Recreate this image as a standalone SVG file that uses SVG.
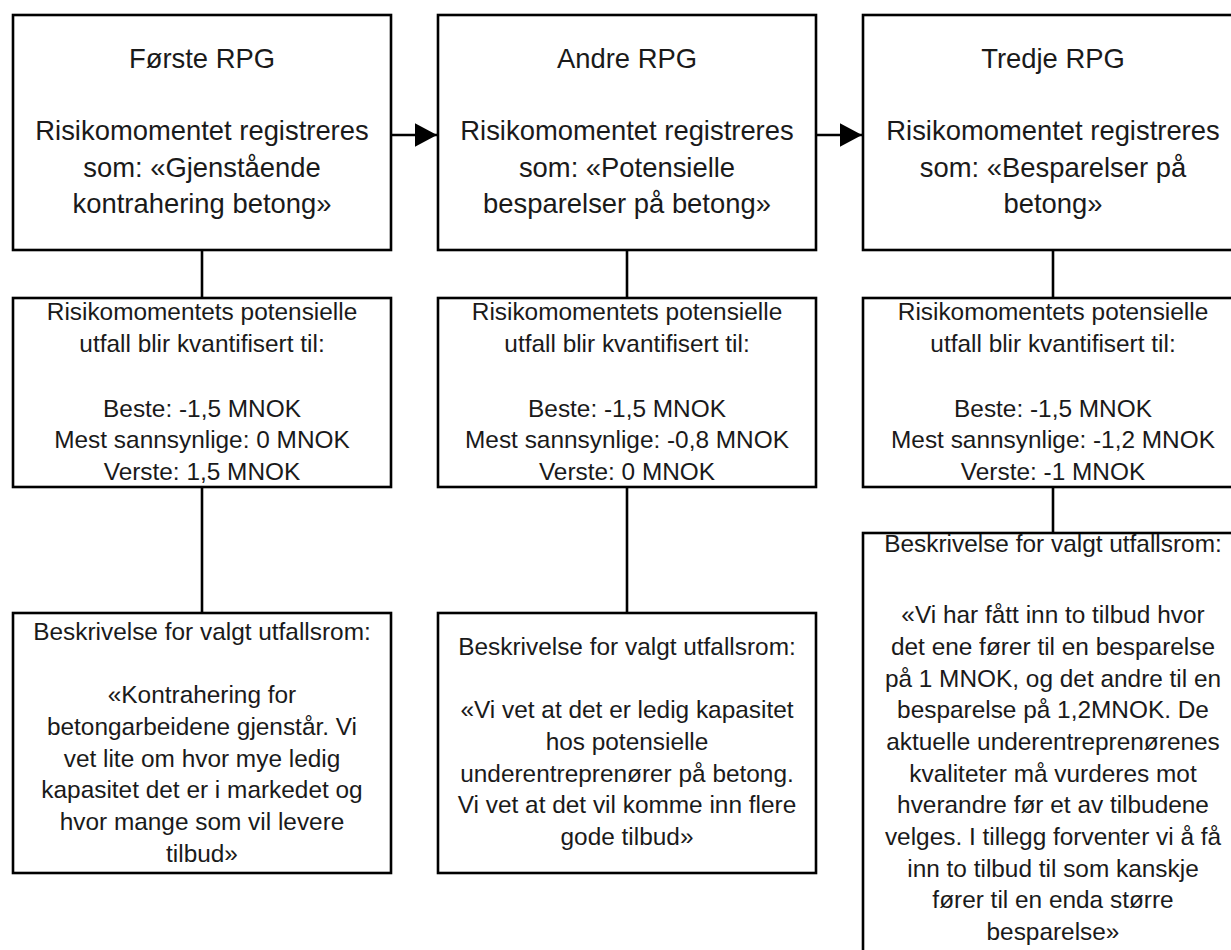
<svg xmlns="http://www.w3.org/2000/svg" width="1231" height="950" viewBox="0 0 1231 950">
<style>
.box{fill:#fff;stroke:#000;stroke-width:2.6}
.ln{stroke:#000;stroke-width:2.6;fill:none}
text{font-family:"Liberation Sans",Arial,sans-serif;fill:#1a1a1a;text-anchor:middle}
.t{font-size:27.4px}
.s{font-size:24.4px}
</style>
<defs>
<marker id="arr" markerWidth="8.5" markerHeight="9" refX="8.5" refY="4.5" orient="auto" markerUnits="strokeWidth">
<path d="M0,0 L8.5,4.5 L0,9 Z" fill="#000"/>
</marker>
</defs>
<rect width="1231" height="950" fill="#fff"/>
<g id="connectors">
<line class="ln" x1="391" y1="135" x2="437" y2="135" marker-end="url(#arr)"/>
<line class="ln" x1="816" y1="135" x2="862" y2="135" marker-end="url(#arr)"/>
<line class="ln" x1="202" y1="250" x2="202" y2="298"/>
<line class="ln" x1="627" y1="250" x2="627" y2="298"/>
<line class="ln" x1="1053" y1="250" x2="1053" y2="298"/>
<line class="ln" x1="202" y1="487" x2="202" y2="613"/>
<line class="ln" x1="627" y1="487" x2="627" y2="613"/>
<line class="ln" x1="1053" y1="487" x2="1053" y2="533"/>
</g>
<g id="rpg1">
<rect class="box" x="13" y="15" width="378" height="235"/>
<text class="t" x="202" y="68">Første RPG</text>
<text class="t" x="202" y="140">Risikomomentet registreres</text>
<text class="t" x="202" y="177">som: «Gjenstående</text>
<text class="t" x="202" y="213">kontrahering betong»</text>
</g>
<g id="rpg2">
<rect class="box" x="438" y="15" width="378" height="235"/>
<text class="t" x="627" y="68">Andre RPG</text>
<text class="t" x="627" y="140">Risikomomentet registreres</text>
<text class="t" x="627" y="177">som: «Potensielle</text>
<text class="t" x="627" y="213">besparelser på betong»</text>
</g>
<g id="rpg3">
<rect class="box" x="863" y="15" width="380" height="235"/>
<text class="t" x="1053" y="68">Tredje RPG</text>
<text class="t" x="1053" y="140">Risikomomentet registreres</text>
<text class="t" x="1053" y="177">som: «Besparelser på</text>
<text class="t" x="1053" y="213">betong»</text>
</g>
<g id="utfall1">
<rect class="box" x="13" y="298" width="378" height="189"/>
<text class="s" x="202" y="320">Risikomomentets potensielle</text>
<text class="s" x="202" y="352">utfall blir kvantifisert til:</text>
<text class="s" x="202" y="417">Beste: -1,5 MNOK</text>
<text class="s" x="202" y="448">Mest sannsynlige: 0 MNOK</text>
<text class="s" x="202" y="480">Verste: 1,5 MNOK</text>
</g>
<g id="utfall2">
<rect class="box" x="438" y="298" width="378" height="189"/>
<text class="s" x="627" y="320">Risikomomentets potensielle</text>
<text class="s" x="627" y="352">utfall blir kvantifisert til:</text>
<text class="s" x="627" y="417">Beste: -1,5 MNOK</text>
<text class="s" x="627" y="448">Mest sannsynlige: -0,8 MNOK</text>
<text class="s" x="627" y="480">Verste: 0 MNOK</text>
</g>
<g id="utfall3">
<rect class="box" x="863" y="298" width="380" height="189"/>
<text class="s" x="1053" y="320">Risikomomentets potensielle</text>
<text class="s" x="1053" y="352">utfall blir kvantifisert til:</text>
<text class="s" x="1053" y="417">Beste: -1,5 MNOK</text>
<text class="s" x="1053" y="448">Mest sannsynlige: -1,2 MNOK</text>
<text class="s" x="1053" y="480">Verste: -1 MNOK</text>
</g>
<g id="beskrivelse1">
<rect class="box" x="13" y="613" width="378" height="260"/>
<text class="s" x="202" y="640">Beskrivelse for valgt utfallsrom:</text>
<text class="s" x="202" y="703">«Kontrahering for</text>
<text class="s" x="202" y="735">betongarbeidene gjenstår. Vi</text>
<text class="s" x="202" y="767">vet lite om hvor mye ledig</text>
<text class="s" x="202" y="798">kapasitet det er i markedet og</text>
<text class="s" x="202" y="830">hvor mange som vil levere</text>
<text class="s" x="202" y="862">tilbud»</text>
</g>
<g id="beskrivelse2">
<rect class="box" x="438" y="613" width="378" height="260"/>
<text class="s" x="627" y="655">Beskrivelse for valgt utfallsrom:</text>
<text class="s" x="627" y="718">«Vi vet at det er ledig kapasitet</text>
<text class="s" x="627" y="750">hos potensielle</text>
<text class="s" x="627" y="782">underentreprenører på betong.</text>
<text class="s" x="627" y="813">Vi vet at det vil komme inn flere</text>
<text class="s" x="627" y="845">gode tilbud»</text>
</g>
<g id="beskrivelse3">
<rect class="box" x="863" y="533" width="380" height="440"/>
<text class="s" x="1053" y="552">Beskrivelse for valgt utfallsrom:</text>
<text class="s" x="1053" y="623">«Vi har fått inn to tilbud hvor</text>
<text class="s" x="1053" y="655">det ene fører til en besparelse</text>
<text class="s" x="1053" y="687">på 1 MNOK, og det andre til en</text>
<text class="s" x="1053" y="718">besparelse på 1,2MNOK. De</text>
<text class="s" x="1053" y="750">aktuelle underentreprenørenes</text>
<text class="s" x="1053" y="782">kvaliteter må vurderes mot</text>
<text class="s" x="1053" y="813">hverandre før et av tilbudene</text>
<text class="s" x="1053" y="845">velges. I tillegg forventer vi å få</text>
<text class="s" x="1053" y="877">inn to tilbud til som kanskje</text>
<text class="s" x="1053" y="908">fører til en enda større</text>
<text class="s" x="1053" y="940">besparelse»</text>
</g>
</svg>
